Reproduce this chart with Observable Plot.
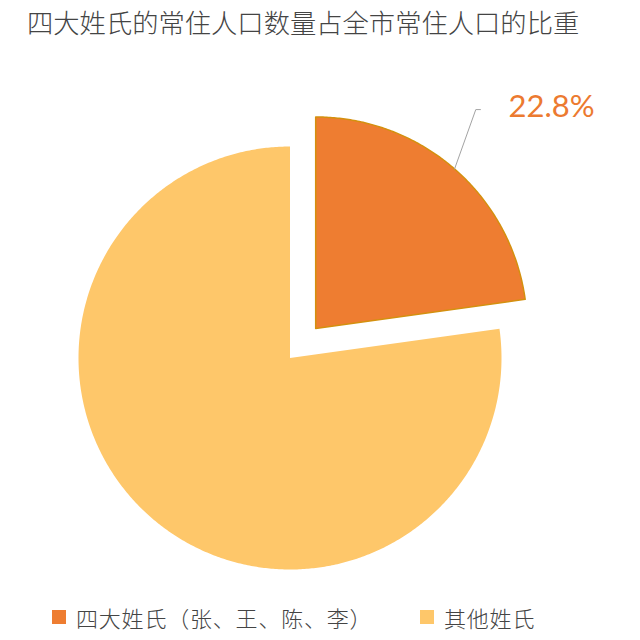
<!DOCTYPE html>
<html><head><meta charset="utf-8">
<script src="https://cdn.jsdelivr.net/npm/d3@7"></script>
<script src="https://cdn.jsdelivr.net/npm/@observablehq/plot@0.6"></script>
<style>
body{margin:0;background:#fff;}
#wrap{position:relative;width:640px;height:640px;font-family:"Noto Sans CJK SC","Noto Sans",sans-serif;background:#fff;}
#title{height:44px;line-height:44px;font-size:26.3px;font-weight:300;color:#444;padding-left:27px;white-space:nowrap;}
#chart{height:556px;}
#legend{position:relative;height:40px;font-size:22px;font-weight:300;color:#444;}
.item{position:absolute;top:0;height:34px;display:flex;align-items:center;white-space:nowrap;}
.sw{width:14px;height:14px;margin-right:10px;}
.tx{letter-spacing:0.8px;}
</style></head>
<body><div id="wrap"><div id="title"></div><div id="chart"></div><div id="legend"></div></div>
<script>
const title = "四大姓氏的常住人口数量占全市常住人口的比重";
const categories = ["四大姓氏（张、王、陈、李）", "其他姓氏"];
const shares = [22.8, 77.2];
const colors = ["#EE7D31", "#FEC76A"];
const sliceLabels = ["22.8%", ""];

document.getElementById("title").textContent = title;

// pie geometry from data
const pie = d3.pie().sort(null).value(d => d)(shares);
const R = 1, explode = 0.185;
const points = [];
const centers = [];
pie.forEach((p, i) => {
  const name = categories[i];
  const mid = (p.startAngle + p.endAngle) / 2;
  const off = i === 0 ? explode : 0;
  const cx = off * Math.sin(mid), cy = off * Math.cos(mid);
  centers.push({cx, cy, mid});
  points.push({name, x: cx, y: cy});
  const n = Math.ceil((p.endAngle - p.startAngle) / (Math.PI / 360));
  for (let k = 0; k <= n; k++) {
    const a = p.startAngle + (p.endAngle - p.startAngle) * k / n;
    points.push({name, x: cx + R * Math.sin(a), y: cy + R * Math.cos(a)});
  }
  points.push({name, x: cx, y: cy});
});

// leader line & label for first slice
const c0 = centers[0];
const start = {x: c0.cx + R * Math.sin(c0.mid), y: c0.cy + R * Math.cos(c0.mid)};
const bend = {x: c0.cx + 0.757, y: c0.cy + 1.035};
const end = {x: bend.x + 0.022, y: bend.y};
const leader = [start, bend, end];
const labelData = [{x: bend.x + 0.155, y: bend.y + 0.012, text: sliceLabels[0]}];

const chart = Plot.plot({
  width: 640,
  height: 556,
  margin: 0,
  x: {domain: [-1, 1], range: [78, 501], axis: null},
  y: {domain: [-1, 1], range: [525, 102], axis: null},
  color: {domain: categories, range: colors},
  style: {background: "#fff", overflow: "visible"},
  marks: [
    Plot.line(points, {x: "x", y: "y", z: "name", fill: "name", stroke: "none"}),
    Plot.line(points.filter(d => d.name === categories[0]), {x: "x", y: "y", stroke: "#D4900F", strokeWidth: 1.5, strokeLinejoin: "round"}),
    Plot.line(leader, {x: "x", y: "y", stroke: "#A3A3A3", strokeWidth: 1}),
    Plot.text(labelData, {x: "x", y: "y", text: "text", textAnchor: "start", lineAnchor: "middle", fontSize: 31, fontFamily: "Lato, sans-serif", fill: "#EC7A30"})
  ]
});
document.getElementById("chart").appendChild(chart);

// legend
const legendLeft = [52, 420];
const lg = document.getElementById("legend");
categories.forEach((c, i) => {
  const it = document.createElement("div");
  it.className = "item";
  it.style.left = legendLeft[i] + "px";
  const sw = document.createElement("span");
  sw.className = "sw";
  sw.style.background = colors[i];
  const tx = document.createElement("span");
  tx.className = "tx";
  tx.textContent = c;
  it.appendChild(sw); it.appendChild(tx);
  lg.appendChild(it);
});
</script>
</body></html>
